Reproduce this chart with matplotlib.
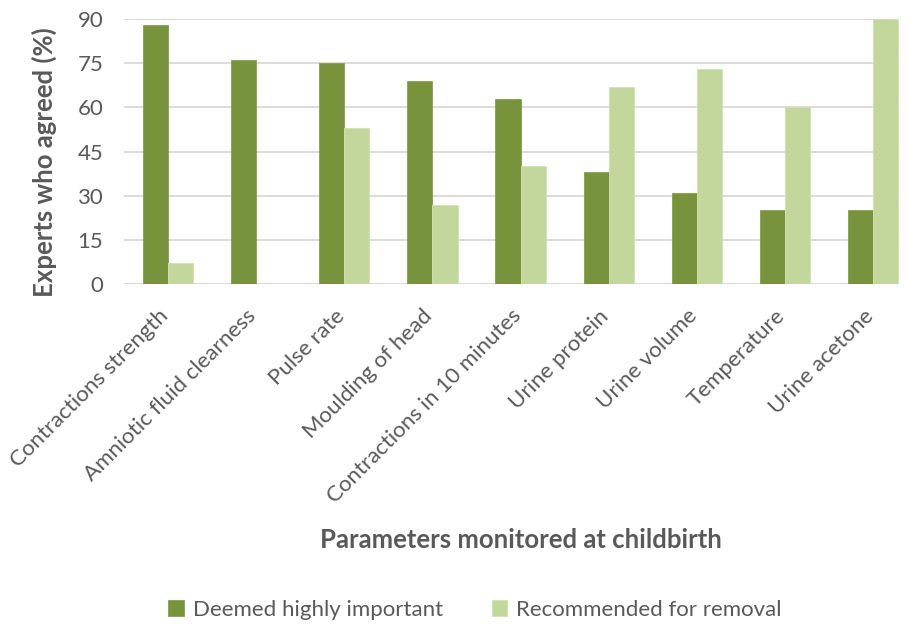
import numpy as np
import matplotlib.pyplot as plt
import matplotlib.transforms as mtrans

categories = ["Contractions strength", "Amniotic fluid clearness", "Pulse rate",
              "Moulding of head", "Contractions in 10 minutes", "Urine protein",
              "Urine volume", "Temperature", "Urine acetone"]
important = [88, 76, 75, 69, 63, 38, 31, 25, 25]
removal = [7, 0, 53, 27, 40, 67, 73, 60, 90]
yticks = [0, 15, 30, 45, 60, 75, 90]

dark = "#77933C"
light = "#C3D69B"
txt = "#595959"

plt.rcParams['font.family'] = ['Lato', 'DejaVu Sans']

fig = plt.figure(figsize=(9.1, 6.25), dpi=100)
ax = fig.add_axes([124/910, 1-284/625, (899-124)/910, 265/625])

x = np.arange(len(categories))
w = 0.285
ax.bar(x - w/2, important, w, color=dark, edgecolor="#85A045", linewidth=0.6,
       label="Deemed highly important", zorder=3)
ax.bar(x + w/2, removal, w, color=light, edgecolor="#D2E2B0", linewidth=0.6,
       label="Recommended for removal", zorder=3)

ax.set_ylim(0, 90)
ax.set_xlim(-0.5, 8.5 - 18/88)
ax.set_yticks(yticks)
ax.yaxis.grid(True, color="#D9D9D9", linewidth=1.3, zorder=0)
for s in ax.spines.values():
    s.set_visible(False)
ax.tick_params(axis='both', length=0, labelsize=16, labelcolor=txt)
ax.tick_params(axis='y', pad=15)
ax.set_xticks(x)
ax.set_xticklabels(categories, rotation=45, ha='right', rotation_mode='anchor')
ax.tick_params(axis='x', pad=10)
shift = mtrans.ScaledTranslation(-10/100, -8/100, fig.dpi_scale_trans)
for lab in ax.get_xticklabels():
    lab.set_transform(lab.get_transform() + shift)

fig.text(44/910, 1-162/625, "Experts who agreed (%)", fontsize=18.5, fontweight='bold',
         color=txt, rotation=90, ha='center', va='center')
fig.text(0.572, 1-540/625, "Parameters monitored at childbirth", fontsize=18.5,
         fontweight='bold', color=txt, ha='center', va='center')

fig.legend(loc='center', bbox_to_anchor=(0.522, 1-610/625), ncol=2, frameon=False,
           fontsize=16, labelcolor=txt, handlelength=0.7, handleheight=0.7,
           columnspacing=2.2, handletextpad=0.4)

fig.savefig("out.png", dpi=100)
